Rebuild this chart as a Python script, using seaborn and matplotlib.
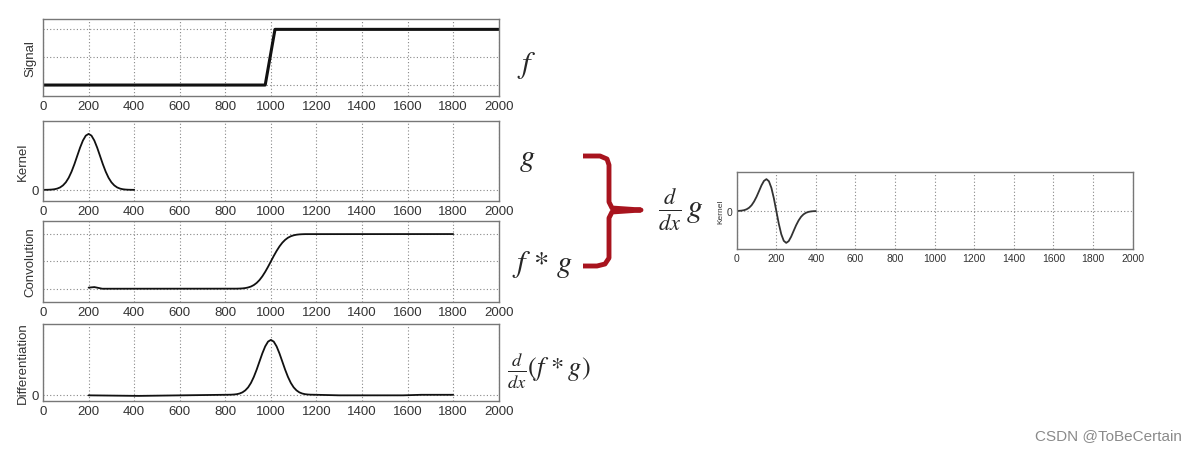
import numpy as np
import pandas as pd
import matplotlib.pyplot as plt
import seaborn as sns
from matplotlib.lines import Line2D

# values
signal_x = [0, 975, 1018, 2000]
signal_y = [0.0, 0.0, 1.0, 1.0]

kernel_x = [0, 12.5, 25, 37.5, 50, 62.5, 75, 87.5, 100, 112.5, 125, 137.5, 150, 162.5, 175, 187.5,
            200, 212.5, 225, 237.5, 250, 262.5, 275, 287.5, 300, 312.5, 325, 337.5, 350, 362.5,
            375, 387.5, 400]
kernel_y = [0.0003, 0.0009, 0.0022, 0.0051, 0.011, 0.023, 0.044, 0.080, 0.135, 0.216, 0.325,
            0.458, 0.607, 0.755, 0.882, 0.969, 1.0, 0.969, 0.882, 0.755, 0.607, 0.458, 0.325,
            0.216, 0.135, 0.080, 0.044, 0.023, 0.011, 0.0051, 0.0022, 0.0009, 0.0003]

conv_x = [200, 225, 260, 850, 862.5, 875, 887.5, 900, 912.5, 925, 937.5, 950, 962.5, 975, 987.5,
          1000, 1012.5, 1025, 1037.5, 1050, 1062.5, 1075, 1087.5, 1100, 1112.5, 1125, 1137.5,
          1150, 1800]
conv_y = [0.02, 0.03, 0.0, 0.0013, 0.003, 0.006, 0.012, 0.023, 0.040, 0.067, 0.106, 0.159, 0.227,
          0.309, 0.401, 0.5, 0.599, 0.691, 0.773, 0.841, 0.894, 0.933, 0.960, 0.977, 0.988,
          0.994, 0.997, 0.9987, 1.0]

diff_x = [200, 420, 800, 812.5, 825, 837.5, 850, 862.5, 875, 887.5, 900, 912.5, 925, 937.5, 950,
          962.5, 975, 987.5, 1000, 1012.5, 1025, 1037.5, 1050, 1062.5, 1075, 1087.5, 1100, 1112.5,
          1125, 1137.5, 1150, 1162.5, 1175, 1200, 1300, 1460, 1580, 1660, 1800]
diff_y = [-0.01, -0.02, 0.0003, 0.0009, 0.0022, 0.0051, 0.011, 0.023, 0.044, 0.080, 0.135, 0.216,
          0.325, 0.458, 0.607, 0.755, 0.882, 0.969, 1.0, 0.969, 0.882, 0.755, 0.607, 0.458, 0.325,
          0.216, 0.135, 0.080, 0.044, 0.023, 0.011, 0.0051, 0.0022, 0.0, -0.01, -0.01, -0.01,
          0.0, 0.0]

dkernel_x = kernel_x
dkernel_y = [0.0022, 0.0056, 0.013, 0.027, 0.055, 0.103, 0.181, 0.297, 0.446, 0.623, 0.804,
             0.944, 1.0, 0.934, 0.727, 0.399, 0.0, -0.399, -0.727, -0.934, -1.0, -0.944, -0.804,
             -0.623, -0.446, -0.297, -0.181, -0.103, -0.055, -0.027, -0.013, -0.0056, -0.0022]

x_ticks = list(range(0, 2001, 200))

sns.set_style("white")
plt.rcParams['font.family'] = ['Liberation Sans', 'DejaVu Sans']
plt.rcParams['mathtext.fontset'] = 'stix'

fig = plt.figure(figsize=(11.96, 4.52), dpi=100)

panels = [
    # x, y, ylabel, ylim, yticks, yticklabels, rect, linewidth
    (signal_x, signal_y, 'Signal', (-0.2, 1.18), [0, 0.5, 1], ['', '', ''], [0.036, 0.785, 0.381, 0.170], 2.2),
    (kernel_x, kernel_y, 'Kernel', (-0.2, 1.23), [0], ['0'], [0.036, 0.553, 0.381, 0.177], 1.3),
    (conv_x, conv_y, 'Convolution', (-0.24, 1.24), [0, 0.5, 1], ['', '', ''], [0.036, 0.330, 0.381, 0.179], 1.3),
    (diff_x, diff_y, 'Differentiation', (-0.11, 1.29), [0], ['0'], [0.036, 0.111, 0.381, 0.170], 1.3),
]

def style_axes(ax, ylabel, ylim, yticks, yticklabels, fs_tick, fs_label):
    ax.set_xlim(0, 2000)
    ax.set_ylim(*ylim)
    ax.set_xticks(x_ticks)
    ax.set_xticklabels([str(t) for t in x_ticks], fontsize=fs_tick, color='#333333')
    ax.set_yticks(yticks)
    ax.set_yticklabels(yticklabels, fontsize=fs_tick, color='#333333')
    ax.set_ylabel(ylabel, fontsize=fs_label, color='#333333', labelpad=2)
    ax.set_xlabel('')
    ax.grid(True, linestyle=(0, (1, 2)), color='#888888', linewidth=0.8)
    ax.tick_params(direction='in', length=3, color='#666666', pad=3)
    for s in ax.spines.values():
        s.set_color('#777777')
        s.set_linewidth(1.0)

for x, y, lab, ylim, yt, ytl, rect, lw in panels:
    ax = fig.add_axes(rect)
    sns.lineplot(x=x, y=y, ax=ax, color='#111111', linewidth=lw)
    style_axes(ax, lab, ylim, yt, ytl, 9.5, 9.5)

ax_r = fig.add_axes([0.616, 0.447, 0.331, 0.170])
sns.lineplot(x=dkernel_x, y=dkernel_y, ax=ax_r, color='#333333', linewidth=1.3)
style_axes(ax_r, 'Kernel', (-1.19, 1.22), [0], ['0'], 7.5, 6)

# math labels
fig.text(0.432, 0.855, r'$f$', fontsize=22, ha='left', va='center')
fig.text(0.434, 0.648, r'$g$', fontsize=22, ha='left', va='center')
fig.text(0.428, 0.415, r'$f\,*\,g$', fontsize=22, ha='left', va='center')
fig.text(0.424, 0.180, r'$\frac{d}{dx}(f\,*g)$', fontsize=19, ha='left', va='center')
fig.text(0.550, 0.535, r'$\frac{d}{dx}\,g$', fontsize=23, ha='left', va='center')

# red brace
W, H = 1196, 452
pts = [(583, 157), (600, 157), (607, 160), (609, 166), (609, 203), (612, 209),
       (641, 211), (612, 213), (609, 219), (609, 259), (605, 265), (597, 267), (583, 267)]
bx = [p[0] / W for p in pts]
by = [1 - p[1] / H for p in pts]
fig.add_artist(Line2D(bx, by, color='#a8141e', linewidth=3.5, solid_joinstyle='round',
                      solid_capstyle='butt', transform=fig.transFigure))

fig.text(0.988, 0.035, 'CSDN @ToBeCertain', fontsize=11, color='#8a8a8a', ha='right', va='center')

fig.savefig('out.png', dpi=100)
